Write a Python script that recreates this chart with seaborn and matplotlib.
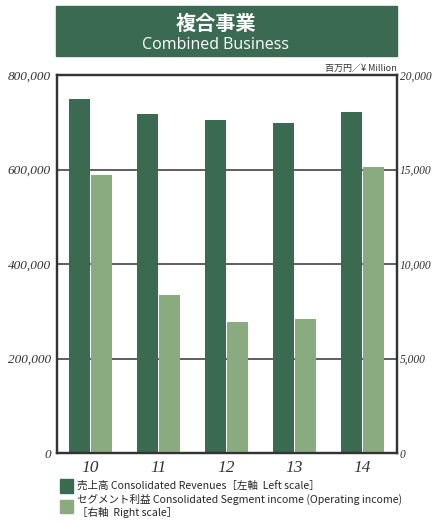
import pandas as pd
import matplotlib.pyplot as plt
import matplotlib.patches as mpatches
from matplotlib.ticker import FuncFormatter, FixedLocator
import seaborn as sns

# data
years = ["10", "11", "12", "13", "14"]
revenues = [749000, 717500, 705000, 698500, 721500]   # left scale, ¥ million
segment_income = [14700, 8350, 6950, 7100, 15150]     # right scale, ¥ million

rev_label = "売上高 Consolidated Revenues［左軸  Left scale］"
seg_label = "セグメント利益 Consolidated Segment income (Operating income)\n［右軸  Right scale］"
series = ["revenues", "segment"]

dark = "#3b6a52"
light = "#8aab80"
axis_col = "#333333"

df_rev = pd.DataFrame({"year": years, "value": revenues, "series": "revenues"})
df_seg = pd.DataFrame({"year": years, "value": segment_income, "series": "segment"})

sns.set_style("white")
plt.rcParams["font.family"] = ["Liberation Sans Narrow", "Noto Sans CJK JP", "DejaVu Sans"]

fig = plt.figure(figsize=(4.32, 5.25), dpi=100)
ax = fig.add_axes([0.131, 0.137, 0.787, 0.72])
ax2 = ax.twinx()

sns.barplot(data=df_rev, x="year", y="value", hue="series", hue_order=series,
            palette=[dark, light], order=years, width=0.66, gap=0.06, dodge=True,
            legend=False, ax=ax, saturation=1, linewidth=0)
sns.barplot(data=df_seg, x="year", y="value", hue="series", hue_order=series,
            palette=[dark, light], order=years, width=0.66, gap=0.06, dodge=True,
            legend=False, ax=ax2, saturation=1, linewidth=0)

ax.set_ylim(0, 800000)
ax2.set_ylim(0, 20000)
ax.set_xlim(-0.5, 4.5)
ax.set_yticks([0, 200000, 400000, 600000, 800000])
ax2.set_yticks([0, 5000, 10000, 15000, 20000])
fmt = FuncFormatter(lambda v, p: f"{int(v):,}")
ax.yaxis.set_major_formatter(fmt)
ax2.yaxis.set_major_formatter(fmt)

# grid lines behind the bars
for g in [200000, 400000, 600000]:
    ax.axhline(g, color=axis_col, lw=1.1, zorder=0)
ax.set_axisbelow(True)

ax.set_xlabel("")
ax.set_ylabel("")
ax2.set_ylabel("")

ax.tick_params(axis="y", length=0, pad=4, labelsize=9.5)
ax2.tick_params(axis="y", length=0, pad=2.5, labelsize=8.3)
ax.tick_params(axis="x", length=0, pad=5, labelsize=12.5)
for lab in ax.get_yticklabels() + ax2.get_yticklabels() + ax.get_xticklabels():
    lab.set_fontfamily("Liberation Serif")
    lab.set_fontstyle("italic")
    lab.set_color("#333333")

ax.xaxis.set_minor_locator(FixedLocator([0.5, 1.5, 2.5, 3.5]))
ax.tick_params(axis="x", which="minor", direction="in", length=5, width=1.1, color=axis_col)

for a in (ax, ax2):
    for s in a.spines.values():
        s.set_color(axis_col)
        s.set_linewidth(1.6)

# title band
fig.patches.append(mpatches.Rectangle((56 / 432, 1 - 56 / 525), 341 / 432, 50 / 525,
                                      transform=fig.transFigure, color=dark, zorder=0))
fig.text(0.5, 1 - 23 / 525, "複合事業", ha="center", va="center", color="white",
         fontsize=14.5, fontweight="bold", family=["Noto Sans CJK JP"])
fig.text(0.5, 1 - 45 / 525, "Combined Business", ha="center", va="center", color="white",
         fontsize=11.5, family=["Open Sans", "DejaVu Sans"])
fig.text(397 / 432, 1 - 68 / 525, "百万円／¥ Million", ha="right", va="center",
         fontsize=6.5, color="#333333")

handles = [mpatches.Patch(color=dark), mpatches.Patch(color=light)]
fig.legend(handles, [rev_label, seg_label], loc="upper left",
           bbox_to_anchor=(60 / 432, 1 - 479 / 525), frameon=False,
           handlelength=1.2, handleheight=1.6, handletextpad=0.4,
           labelspacing=0.15, fontsize=7.6, borderaxespad=0, borderpad=0)

fig.savefig("out.png", dpi=100)
